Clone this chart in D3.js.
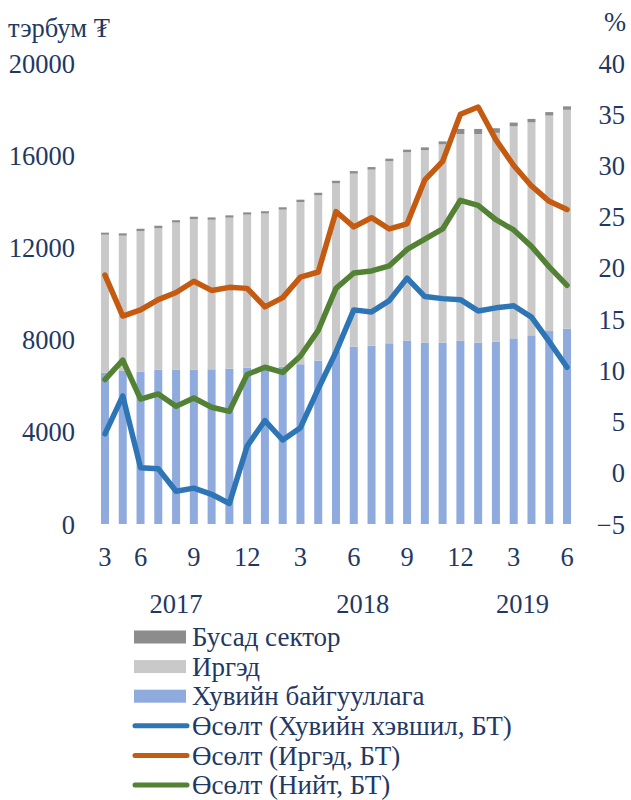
<!DOCTYPE html>
<html><head><meta charset="utf-8">
<script src="https://cdn.jsdelivr.net/npm/d3@7"></script>
<style>
body{margin:0;background:#fff;}
svg{display:block;}
text{font-family:"Liberation Serif","Times New Roman","DejaVu Serif",serif;fill:#1F3864;}
</style></head>
<body><svg id="c" width="631" height="800"></svg>
<script>
const monthLabels = ["3","","6","","","9","","","12","","","3","","","6","","","9","","","12","","","3","","","6"];
const years = [2017,2017,2017,2017,2017,2017,2017,2017,2017,
  2018,2018,2018,2018,2018,2018,2018,2018,2018,2018,2018,2018,
  2019,2019,2019,2019,2019,2019];
const privateOrg = [6560,6640,6610,6690,6690,6690,6710,6740,6780,6820,6820,6930,7090,7460,7690,7735,7840,7950,7870,7870,7950,7870,7910,8055,8185,8370,8470];
const citizens = [5990,5870,6100,6140,6390,6540,6490,6550,6640,6650,6820,7040,7170,7320,7510,7640,7900,8180,8350,8600,8970,9050,9060,9200,9240,9350,9500];
const otherSector = [90,100,100,110,100,100,100,100,100,100,100,100,110,110,110,110,110,110,120,130,220,220,200,160,150,150,150];
const growthPrivate = [3.8,7.5,0.5,0.4,-1.8,-1.5,-2.1,-3.0,2.6,5.1,3.2,4.4,8.2,11.8,15.9,15.7,16.8,19.0,17.2,17.0,16.9,15.8,16.1,16.3,15.2,12.8,10.3];
const growthCitizens = [19.3,15.3,15.9,16.9,17.6,18.7,17.8,18.1,18.0,16.2,17.1,19.1,19.6,25.5,24.0,24.9,23.8,24.3,28.6,30.4,35.0,35.7,32.5,30.0,28.0,26.5,25.7];
const growthTotal = [9.1,11.0,7.2,7.7,6.5,7.3,6.4,6.0,9.6,10.3,9.8,11.4,13.9,18.0,19.5,19.7,20.2,21.8,22.8,23.8,26.6,26.1,24.7,23.7,22.1,20.1,18.3];
const leftTicks = [0,4000,8000,12000,16000,20000];
const rightTicks = [-5,0,5,10,15,20,25,30,35,40];

const barColors = {privateOrg:"#8FAADC", citizens:"#C9C9C9", otherSector:"#8C8C8C"};
const lineColors = {growthPrivate:"#2E75B6", growthCitizens:"#C55A11", growthTotal:"#548235"};
const FS = 26.5, LFS = 27;

const svg = d3.select("#c");
const idx = d3.range(privateOrg.length);
const x = d3.scaleBand().domain(idx).range([96.1, 575.9]).paddingInner(0.55).paddingOuter(0.275);
const yL = d3.scaleLinear().domain([0,20000]).range([524,63]);
const yR = d3.scaleLinear().domain([-5,40]).range([524,63]);

// stacked bars
const rows = idx.map(i => ({i, privateOrg:privateOrg[i], citizens:citizens[i], otherSector:otherSector[i]}));
const stack = d3.stack().keys(["privateOrg","citizens","otherSector"])(rows);
svg.append("g").selectAll("g").data(stack).join("g")
  .attr("fill", d => barColors[d.key])
  .selectAll("rect").data(d => d).join("rect")
  .attr("x", d => x(d.data.i))
  .attr("width", x.bandwidth())
  .attr("y", d => yL(d[1]))
  .attr("height", d => yL(d[0]) - yL(d[1]));

// lines
const cx = i => x(i) + x.bandwidth()/2;
const series = [["growthPrivate",growthPrivate],["growthCitizens",growthCitizens],["growthTotal",growthTotal]];
const line = d3.line().x((d,i)=>cx(i)).y(d=>yR(d));
series.forEach(([k,v]) => {
  svg.append("path").datum(v).attr("d", line).attr("fill","none")
    .attr("stroke", lineColors[k]).attr("stroke-width",5.5)
    .attr("stroke-linejoin","round").attr("stroke-linecap","round");
});

// left axis
const gL = svg.append("g").attr("transform","translate(75,0)")
  .call(d3.axisLeft(yL).tickValues(leftTicks).tickSize(0).tickPadding(0).tickFormat(d3.format("d")));
gL.select(".domain").remove();
gL.selectAll("text").attr("font-size",FS).attr("dy","0.34em").attr("font-family",null).attr("fill","#1F3864");

// right axis
const gR = svg.append("g").attr("transform","translate(625,0)")
  .call(d3.axisLeft(yR).tickValues(rightTicks).tickSize(0).tickPadding(0).tickFormat(d3.format("d")));
gR.select(".domain").remove();
gR.selectAll("text").attr("font-size",FS).attr("dy","0.34em").attr("font-family",null).attr("fill","#1F3864");

// x month labels
const gX = svg.append("g").attr("transform","translate(0,524)")
  .call(d3.axisBottom(x).tickSize(0).tickPadding(0).tickFormat(i => monthLabels[i]));
gX.select(".domain").remove();
gX.selectAll("text").attr("font-size",FS).attr("y",33).attr("dy","0.34em").attr("font-family",null).attr("fill","#1F3864");

// year labels
const yearGroups = d3.groups(idx, i => years[i]);
svg.append("g").selectAll("text").data(yearGroups).join("text")
  .attr("x", d => (cx(d[1][0]) + cx(d[1][d[1].length-1]))/2)
  .attr("y", 604).attr("dy","0.34em").attr("text-anchor","middle").attr("font-size",FS)
  .text(d => d[0]);

// unit labels
svg.append("text").attr("x",8).attr("y",28).attr("dy","0.34em").attr("font-size",FS).text("тэрбум ₮");
svg.append("text").attr("x",626).attr("y",22).attr("dy","0.34em").attr("text-anchor","end").attr("font-size",FS).text("%");

// legend
const legend = [
  {label:"Бусад сектор", type:"rect", color:barColors.otherSector},
  {label:"Иргэд", type:"rect", color:barColors.citizens},
  {label:"Хувийн байгууллага", type:"rect", color:barColors.privateOrg},
  {label:"Өсөлт (Хувийн хэвшил, БТ)", type:"line", color:lineColors.growthPrivate},
  {label:"Өсөлт (Иргэд, БТ)", type:"line", color:lineColors.growthCitizens},
  {label:"Өсөлт (Нийт, БТ)", type:"line", color:lineColors.growthTotal}
];
const lg = svg.append("g").selectAll("g").data(legend).join("g")
  .attr("transform",(d,i)=>`translate(0,${637 + i*29.6})`);
lg.filter(d=>d.type==="rect").append("rect").attr("x",134).attr("y",-6.5).attr("width",52).attr("height",13).attr("fill",d=>d.color);
lg.filter(d=>d.type==="line").append("line").attr("x1",135).attr("x2",187).attr("y1",0).attr("y2",0)
  .attr("stroke",d=>d.color).attr("stroke-width",5).attr("stroke-linecap","round");
lg.append("text").attr("x",192).attr("y",0).attr("dy","0.34em").attr("font-size",LFS).text(d=>d.label);
</script></body></html>
